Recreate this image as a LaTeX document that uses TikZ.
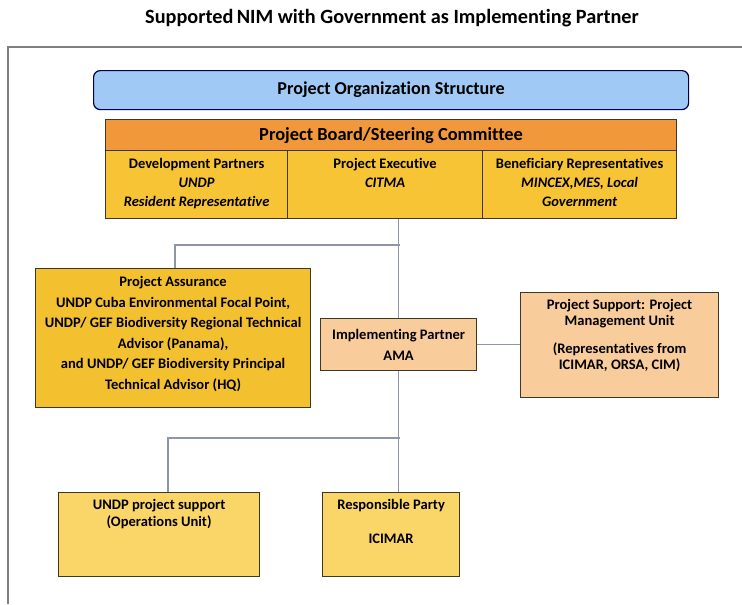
\documentclass[tikz,border=0pt]{standalone}
\usepackage{fontspec}
\setmainfont{Carlito}[Ligatures=NoCommon]
\definecolor{headblue}{RGB}{160,201,245}
\definecolor{boardorange}{RGB}{241,152,58}
\definecolor{cellgold}{RGB}{246,196,52}
\definecolor{assgold}{RGB}{243,192,48}
\definecolor{peach}{RGB}{249,204,156}
\definecolor{paleyellow}{RGB}{250,214,104}
\definecolor{boxline}{RGB}{60,55,40}
\definecolor{linkgray}{RGB}{140,150,165}
\newcommand\px{0.75pt}
\begin{document}
\begin{tikzpicture}[x=0.75pt,y=-0.75pt,
	box/.style={draw=boxline, line width=0.9pt, anchor=north west, inner sep=0pt},
	txt/.style={align=center, font=\bfseries\fontsize{10.9}{14.2}\selectfont, inner sep=0pt},
	link/.style={draw=linkgray, line width=1pt}]
	\useasboundingbox (0,0) rectangle (742,604);
	% title and frame
	\node (title) [font=\bfseries\fontsize{15.2}{18}\selectfont] at (392,18) {Supported\,NIM with Government as Implementing Partner};
	\draw [gray, line width=0.8pt] (8,604) -- (8,47) -- (742,47);
	% header
	\node (pos) [box, draw=black!70!blue, fill=headblue, rounded corners=5pt,
		minimum width=595*\px, minimum height=39*\px] at (93,70) {};
	\node [txt, font=\bfseries\fontsize{13.6}{15}\selectfont] at (pos.center) {Project Organization Structure};
	% board
	\node (board) [box, fill=boardorange, minimum width=571*\px, minimum height=31*\px] at (105,119) {};
	\node [txt, font=\bfseries\fontsize{13.8}{15}\selectfont] at (board.center) {Project Board/Steering Committee};
	\node (dp) [box, fill=cellgold, minimum width=182*\px, minimum height=68*\px] at (105,150) {};
	\node (pe) [box, fill=cellgold, minimum width=195*\px, minimum height=68*\px] at (287,150) {};
	\node (br) [box, fill=cellgold, minimum width=194*\px, minimum height=68*\px] at (482,150) {};
	\node [txt, anchor=north] at ([yshift=-8*\px]dp.north) {Development Partners\\\itshape UNDP\\\itshape Resident Representative};
	\node [txt, anchor=north] at ([yshift=-8*\px]pe.north) {Project Executive\\\itshape CITMA};
	\node [txt, anchor=north] at ([yshift=-8*\px]br.north) {Beneficiary Representatives\\\itshape MINCEX,MES, Local\\\itshape Government};
	% middle row
	\node (pa) [box, fill=assgold, minimum width=275*\px, minimum height=139*\px] at (35,268) {};
	\node [txt, anchor=north, font=\bfseries\fontsize{10.9}{15.4}\selectfont] at ([yshift=-8*\px]pa.north)
		{Project Assurance\\UNDP Cuba Environmental Focal Point,\\UNDP/ GEF Biodiversity Regional Technical\\Advisor (Panama),\\and UNDP/ GEF Biodiversity Principal\\Technical Advisor (HQ)};
	\node (ip) [box, fill=peach, minimum width=156*\px, minimum height=52*\px] at (320,318) {};
	\node [txt, font=\bfseries\fontsize{10.9}{15.5}\selectfont] at (ip.center) {Implementing Partner\\AMA};
	\node (ps) [box, fill=peach, minimum width=198*\px, minimum height=105*\px] at (520,292) {};
	\node [txt, anchor=north, font=\bfseries\fontsize{10.9}{12}\selectfont] at ([yshift=-7*\px]ps.north)
		{Project Support: Project\\Management Unit\\[9pt](Representatives from\\ICIMAR, ORSA, CIM)};
	% bottom row
	\node (ups) [box, fill=paleyellow, minimum width=201*\px, minimum height=84*\px] at (58,492) {};
	\node [txt, anchor=north, font=\bfseries\fontsize{10.9}{12.5}\selectfont] at ([yshift=-7*\px]ups.north)
		{UNDP project support\\(Operations Unit)};
	\node (rp) [box, fill=paleyellow, minimum width=137*\px, minimum height=84*\px] at (322,492) {};
	\node [txt, anchor=north, font=\bfseries\fontsize{10.9}{12.5}\selectfont] at ([yshift=-7*\px]rp.north)
		{Responsible Party\\[13pt]ICIMAR};
	% connectors
	\coordinate (j1) at (400,245);
	\coordinate (j2) at (400,438);
	\draw [link] (pe.south -| ip.north) -- (ip.north);
	\draw [link] (j1) -| (pa.north -| 175,0);
	\draw [link] (ip.east) -- (ps.west |- ip.east);
	\draw [link] (ip.south) -- (rp.north -| ip.south);
	\draw [link] (j2) -| (ups.north -| 168,0);
\end{tikzpicture}
\end{document}
